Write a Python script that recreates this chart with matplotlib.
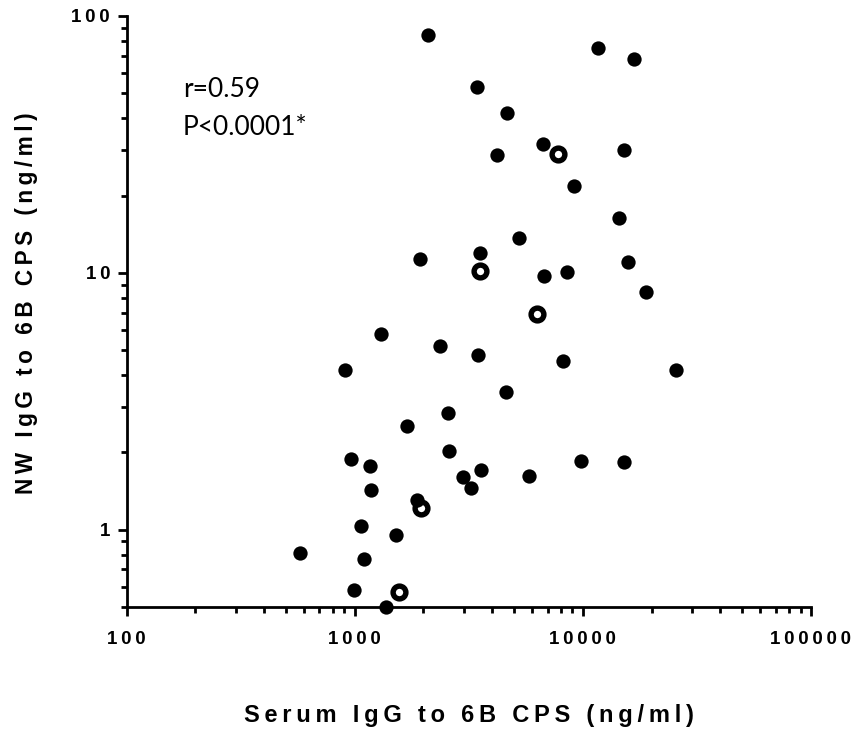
import matplotlib
matplotlib.use("Agg")
import matplotlib.pyplot as plt
from matplotlib.ticker import LogLocator, NullFormatter

# ---- data ----
serum_filled = [2090, 11700, 16700, 3430, 4660, 6660, 4190, 15100, 9140, 14400,
                5230, 3530, 1940, 15800, 6750, 8490, 18900, 1300, 2370, 3470,
                8150, 910, 25500, 4620, 2570, 1690, 2590, 960, 1170, 9840,
                15100, 3590, 2970, 5820, 3230, 1180, 1870, 1070, 1520, 577,
                1100, 995, 1370]
nw_filled = [84, 75, 68, 53, 42, 31.7, 28.8, 30, 21.7, 16.3,
             13.7, 11.9, 11.3, 11.0, 9.7, 10.1, 8.4, 5.8, 5.2, 4.8,
             4.55, 4.2, 4.2, 3.45, 2.85, 2.54, 2.02, 1.89, 1.77, 1.85,
             1.84, 1.71, 1.61, 1.62, 1.45, 1.43, 1.30, 1.03, 0.95, 0.81,
             0.77, 0.58, 0.50]
serum_open = [7800, 3530, 6310, 1960, 1570]
nw_open = [29, 10.2, 6.9, 1.21, 0.574]

x_ticks = [100, 1000, 10000, 100000]
y_ticks = [1, 10, 100]
x_label = "Serum IgG to 6B CPS (ng/ml)"
y_label = "NW IgG to 6B CPS (ng/ml)"
stats_lines = ["r=0.59", "P<0.0001*"]

SP = "\u2009"


def spaced(s):
    return SP.join(list(s))


LAB_FAMILY = ["Liberation Sans", "DejaVu Sans"]

fig = plt.figure(figsize=(8.56, 7.37), dpi=100)
ax = fig.add_axes([0.148, 0.1764, 0.7994, 0.8019])

ax.plot(serum_filled, nw_filled, linestyle="none", marker="o", markersize=10.3,
        color="black", markeredgewidth=0, clip_on=False, zorder=3)
ax.plot(serum_open, nw_open, linestyle="none", marker="o", markersize=9.2,
        markerfacecolor="none", markeredgecolor="black", markeredgewidth=3.9,
        clip_on=False, zorder=4)

ax.set_xscale("log")
ax.set_yscale("log")
ax.set_xlim(100, 100000)
ax.set_ylim(0.5, 100)

for side in ("top", "right"):
    ax.spines[side].set_visible(False)
for side in ("left", "bottom"):
    ax.spines[side].set_linewidth(2.0)

ax.set_xticks(x_ticks, labels=[spaced(str(v)) for v in x_ticks])
ax.set_yticks(y_ticks, labels=[spaced(str(v)) for v in y_ticks])
ax.xaxis.set_minor_locator(LogLocator(base=10, subs=range(2, 10)))
ax.yaxis.set_minor_locator(LogLocator(base=10, subs=range(2, 10)))
ax.xaxis.set_minor_formatter(NullFormatter())
ax.yaxis.set_minor_formatter(NullFormatter())

ax.tick_params(which="major", direction="out", length=6.5, width=2.0, color="black")
ax.tick_params(which="minor", direction="out", length=4, width=2.0, color="black")
ax.tick_params(axis="x", which="major", pad=10.5)
ax.tick_params(axis="y", which="major", pad=5.5)

for lab in ax.get_xticklabels() + ax.get_yticklabels():
    lab.set_family(LAB_FAMILY)
    lab.set_fontweight("bold")
    lab.set_fontsize(13.5)

ax.set_xlabel(spaced(x_label), family=LAB_FAMILY, fontweight="bold",
              fontsize=17, va="center")
ax.xaxis.set_label_coords(0.5, -0.1844)
ax.set_ylabel(spaced(y_label), family=LAB_FAMILY, fontweight="bold",
              fontsize=16.3, va="center")
ax.yaxis.set_label_coords(-0.147, 0.514)

ax.text(0.0823, 0.863, stats_lines[0], transform=ax.transAxes,
        family=["Lato", "DejaVu Sans"], fontsize=19, va="baseline", ha="left")
ax.text(0.0823, 0.7986, stats_lines[1], transform=ax.transAxes,
        family=["Lato", "DejaVu Sans"], fontsize=19, va="baseline", ha="left")

fig.savefig("out.png", dpi=100, facecolor="white")
